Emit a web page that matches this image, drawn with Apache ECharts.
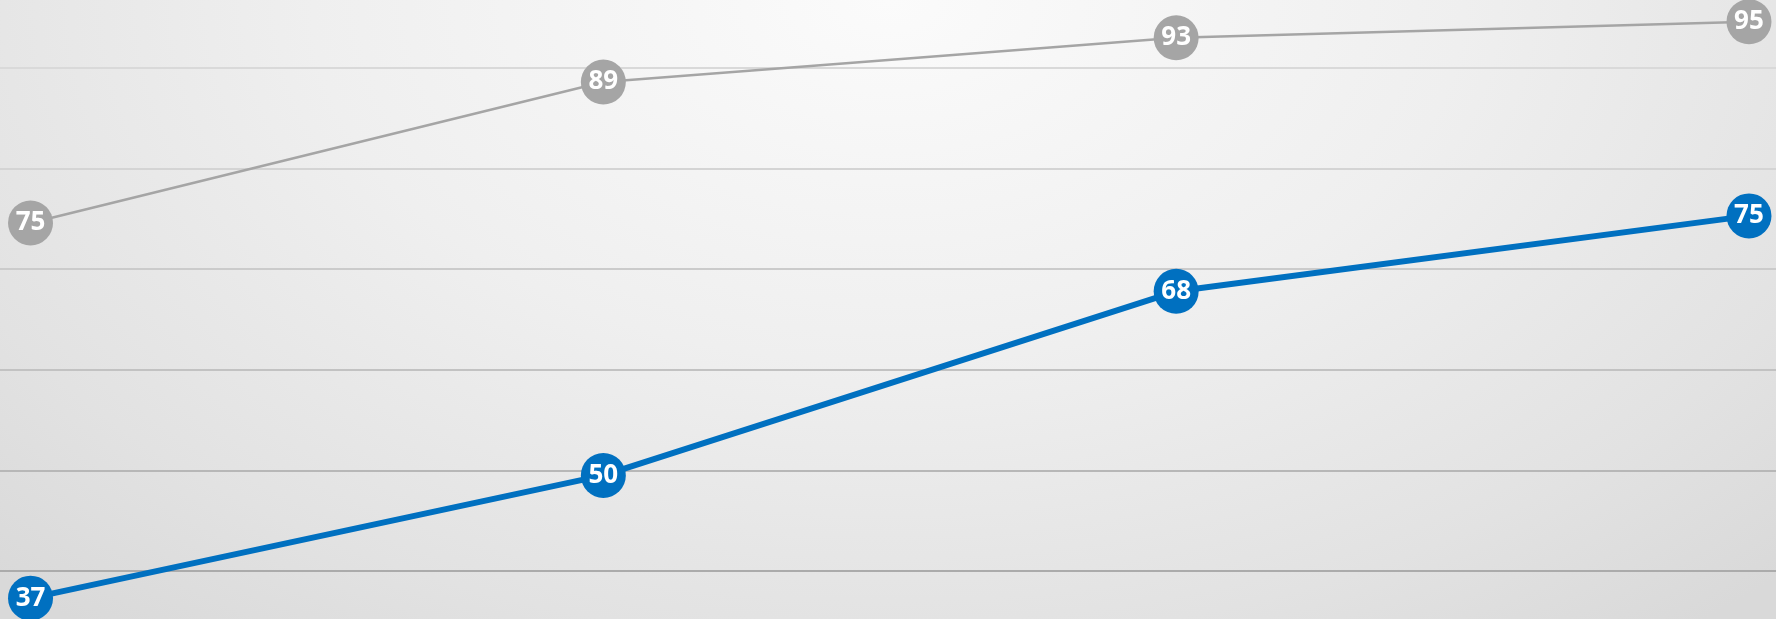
<!DOCTYPE html>
<html>
<head>
<meta charset="utf-8">
<script src="https://cdn.jsdelivr.net/npm/echarts@6/dist/echarts.min.js"></script>
<style>
    html, body { margin: 0; padding: 0; }
    #chart {
        width: 1776px;
        height: 619px;
        background: radial-gradient(ellipse 72% 130% at 50% 0%, #fbfbfb 0%, #efefef 45%, #e2e2e2 80%, #d9d9d9 100%);
    }
</style>
</head>
<body>
<div id="chart"></div>
<script>
const categories = ['1', '2', '3', '4'];
const grayValues = [74.6, 88.6, 93.0, 94.6];
const blueValues = [37.3, 49.5, 67.8, 75.3];
const gridColors = ['#a8a8a8', '#ababab', '#b7b7b7', '#c2c2c2', '#cbcbcb', '#d4d4d4', '#d9d9d9', '#dcdcdc'];

const toPoints = values => values.map((v, i) => [i, v]);

const chart = echarts.init(document.getElementById('chart'), null, { renderer: 'canvas' });

const labelStyle = {
    show: true,
    position: 'inside',
    color: '#ffffff',
    fontFamily: '"Open Sans", "Noto Sans", sans-serif',
    fontWeight: 'bold',
    fontSize: 26,
    formatter: p => Math.round(p.value[1])
};

chart.setOption({
    backgroundColor: 'transparent',
    animation: false,
    // grid runs past the canvas so the split lines span edge to edge
    grid: { left: -542.3, right: -545.8, top: -32.6, bottom: -52.6, outerBoundsMode: 'none' },
    xAxis: {
        type: 'value',
        min: -1,
        max: categories.length,
        show: false
    },
    yAxis: {
        type: 'value',
        min: 30,
        max: 100,
        interval: 10,
        axisLine: { show: false },
        axisTick: { show: false },
        axisLabel: { show: false },
        splitLine: { show: true, lineStyle: { color: gridColors, width: 2 } }
    },
    series: [
        {
            type: 'line',
            data: toPoints(grayValues),
            symbol: 'circle',
            symbolSize: 45,
            lineStyle: { color: '#a5a5a5', width: 2.5 },
            itemStyle: { color: '#a5a5a5' },
            label: labelStyle,
            z: 3
        },
        {
            type: 'line',
            data: toPoints(blueValues),
            symbol: 'circle',
            symbolSize: 45,
            lineStyle: { color: '#0070c0', width: 6 },
            itemStyle: { color: '#0070c0' },
            label: labelStyle,
            z: 4
        }
    ]
});
</script>
</body>
</html>
